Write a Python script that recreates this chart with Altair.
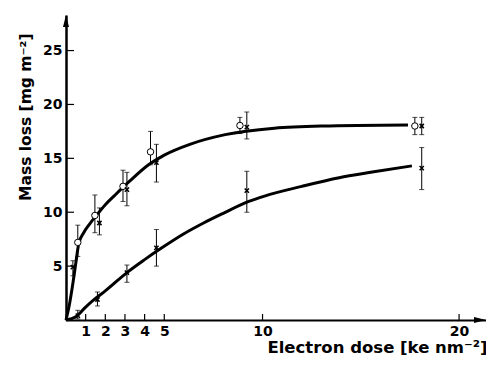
import altair as alt
import pandas as pd

# ---- data ----
# open circles (upper curve)
circ_x = [0.6, 1.47, 2.9, 4.3, 8.85, 17.75]
circ_y = [7.2, 9.7, 12.4, 15.6, 18.05, 18.0]
circ_lo = [5.9, 8.1, 11.0, 14.4, 17.3, 17.2]
circ_hi = [8.8, 11.6, 13.9, 17.5, 18.8, 18.8]

# crosses on the upper curve
upx_x = [0.35, 1.7, 3.1, 4.6, 9.2, 18.1]
upx_y = [4.9, 9.0, 12.1, 14.6, 17.9, 18.0]
upx_lo = [4.1, 7.9, 10.6, 12.8, 16.8, 17.2]
upx_hi = [5.5, 10.4, 13.7, 16.3, 19.3, 18.8]

# crosses on the lower curve
lox_x = [0.6, 1.6, 3.1, 4.6, 9.2, 18.1]
lox_y = [0.4, 1.9, 4.4, 6.7, 12.0, 14.1]
lox_lo = [0.1, 1.3, 3.5, 5.0, 10.0, 12.1]
lox_hi = [0.9, 2.6, 5.1, 8.4, 13.8, 16.0]

# fitted curves
upper_x = [0, 0.15, 0.35, 0.5, 0.65, 0.9, 1.2, 1.5, 2.0, 2.5, 3.25, 4.2, 5.0, 6.3, 8.1, 10.6, 13.0, 17.4]
upper_y = [0, 1.2, 3.4, 5.3, 7.1, 8.1, 8.9, 9.6, 10.7, 11.6, 12.9, 14.4, 15.3, 16.3, 17.2, 17.8, 18.0, 18.1]
lower_x = [0, 0.5, 1.0, 1.5, 2.0, 3.1, 4.0, 4.8, 6.0, 7.0, 8.0, 9.3, 10.1, 12.0, 13.9, 15.5, 17.6]
lower_y = [0, 0.3, 1.2, 2.0, 2.7, 4.4, 5.6, 6.6, 8.0, 9.0, 9.9, 11.0, 11.5, 12.4, 13.2, 13.7, 14.3]

x_ticks = [1, 2, 3, 4, 5, 10, 20]
y_ticks = [5, 10, 15, 20, 25]

W, H = 420, 305
XMAX, YMAX = 21.37, 28.3
FONT = "DejaVu Sans"

curves = pd.concat([
    pd.DataFrame({"x": upper_x, "y": upper_y, "curve": "upper"}),
    pd.DataFrame({"x": lower_x, "y": lower_y, "curve": "lower"}),
])
circles = pd.DataFrame({"x": circ_x, "y": circ_y, "lo": circ_lo, "hi": circ_hi})
crosses = pd.concat([
    pd.DataFrame({"x": upx_x, "y": upx_y, "lo": upx_lo, "hi": upx_hi}),
    pd.DataFrame({"x": lox_x, "y": lox_y, "lo": lox_lo, "hi": lox_hi}),
])
allpts = pd.concat([circles, crosses])
xt = pd.DataFrame({"v": x_ticks})
yt = pd.DataFrame({"v": y_ticks})
arrows_x = pd.DataFrame({"x": [XMAX], "y": [0]})
arrows_y = pd.DataFrame({"x": [0], "y": [YMAX]})

xs = alt.Scale(domain=[0, XMAX], nice=False, zero=False)
ys = alt.Scale(domain=[0, YMAX], nice=False, zero=False)

xaxis = alt.Axis(values=x_ticks, title="Electron dose [ke\u00a0nm⁻²]", grid=False, ticks=False, tickSize=0,
                 domainWidth=2, domainColor="black", labelFontSize=14, labelFontWeight="bold",
                 labelFont=FONT, labelColor="black", labelPadding=4, labelFlush=False,
                 labelOverlap=False, titleFontSize=16.5, titleFont=FONT, titleFontWeight="bold",
                 titleColor="black", titleAnchor="end", titleAlign="right", titleX=W + 1,
                 titleY=27, titleBaseline="middle")
yaxis = alt.Axis(values=y_ticks, title="Mass loss [mg\u00a0m⁻²]", grid=False, ticks=False, tickSize=0,
                 domainWidth=2.5, domainColor="black", labelFontSize=14, labelFontWeight="bold",
                 labelFont=FONT, labelColor="black", labelPadding=4, labelFlush=False,
                 labelOverlap=False, titleFontSize=15.5, titleFont=FONT, titleFontWeight="bold",
                 titleColor="black", titleAnchor="end", titleAlign="right", titleAngle=270,
                 titleX=-41, titleY=18, titleBaseline="middle")

X = lambda f: alt.X(f, scale=xs, axis=xaxis)
Y = lambda f: alt.Y(f, scale=ys, axis=yaxis)

lines = alt.Chart(curves).mark_line(color="black", strokeWidth=3, interpolate="monotone").encode(
    x=X("x:Q"), y=Y("y:Q"), detail="curve:N")

err = alt.Chart(allpts).mark_rule(color="black", strokeWidth=1).encode(
    x=X("x:Q"), y=Y("lo:Q"), y2="hi:Q")
cap_lo = alt.Chart(allpts).mark_tick(color="black", orient="horizontal", size=5, thickness=1).encode(
    x=X("x:Q"), y=Y("lo:Q"))
cap_hi = alt.Chart(allpts).mark_tick(color="black", orient="horizontal", size=5, thickness=1).encode(
    x=X("x:Q"), y=Y("hi:Q"))

circ_mark = alt.Chart(circles).mark_point(shape="circle", filled=True, fill="white", stroke="black",
                                          strokeWidth=1, size=42, opacity=1).encode(
    x=X("x:Q"), y=Y("y:Q"))
cross_mark = alt.Chart(crosses).mark_point(shape="M-1,-1L1,1M1,-1L-1,1", filled=False, stroke="black",
                                           strokeWidth=1.5, size=18, opacity=1).encode(
    x=X("x:Q"), y=Y("y:Q"))

xtick_mark = alt.Chart(xt).mark_rule(color="black", strokeWidth=1.2).encode(
    x=X("v:Q"), y=alt.YDatum(0, scale=ys, axis=yaxis), y2=alt.value(H - 6))
ytick_mark = alt.Chart(yt).mark_rule(color="black", strokeWidth=1.2).encode(
    y=Y("v:Q"), x=alt.XDatum(0, scale=xs, axis=xaxis), x2=alt.value(8))

arr_x = alt.Chart(arrows_x).mark_point(shape="M0,0L-2.4,0.6L-2.4,-0.6Z", filled=True, color="black",
                                       size=100, opacity=1).encode(x=X("x:Q"), y=Y("y:Q"))
arr_y = alt.Chart(arrows_y).mark_point(shape="M0,0L0.6,2.4L-0.6,2.4Z", filled=True, color="black",
                                       size=100, opacity=1).encode(x=X("x:Q"), y=Y("y:Q"))

chart = alt.layer(lines, err, cap_lo, cap_hi, circ_mark, cross_mark, xtick_mark, ytick_mark,
                  arr_x, arr_y).properties(
    width=W, height=H,
    autosize=alt.AutoSizeParams(type="none"),
    padding={"left": 58, "top": 7, "right": 0, "bottom": 37},
    background="white",
).configure_view(strokeWidth=0)

chart.save("out.html", embed_options={"renderer": "svg", "actions": False})
